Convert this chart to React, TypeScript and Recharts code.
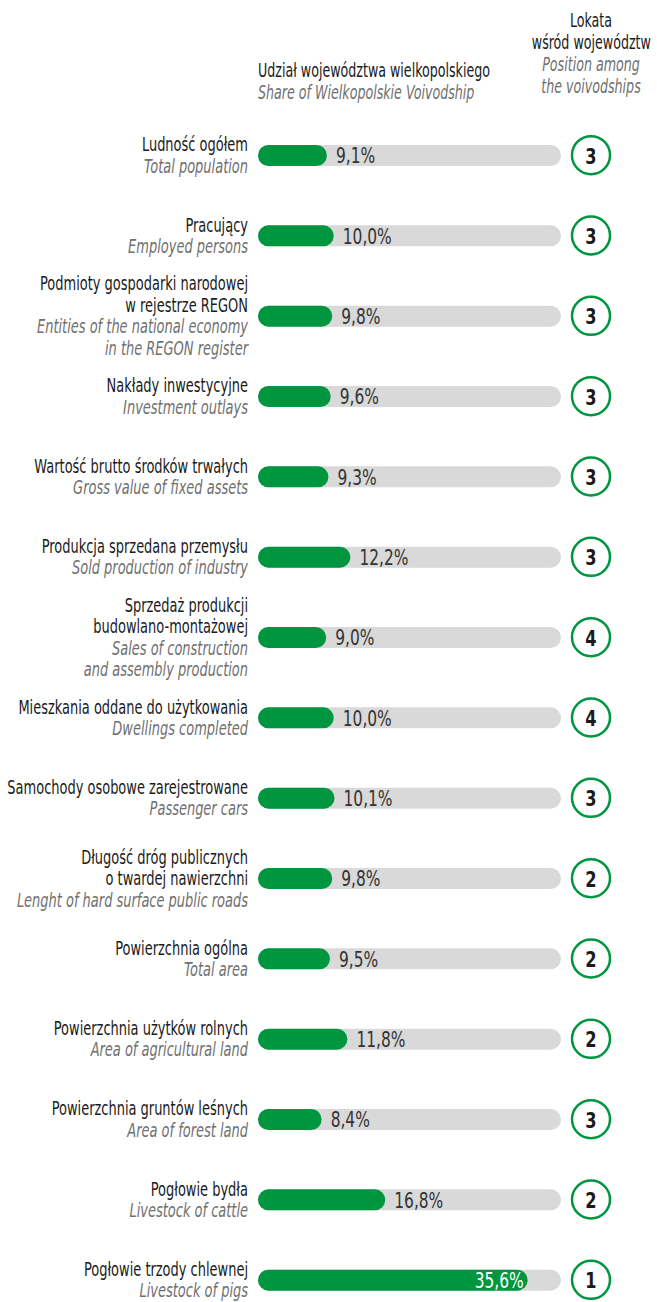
import { BarChart, Bar, XAxis, YAxis, LabelList } from "recharts";

const categoriesPl = [
  "Ludność ogółem",
  "Pracujący",
  "Podmioty gospodarki narodowej\nw rejestrze REGON",
  "Nakłady inwestycyjne",
  "Wartość brutto środków trwałych",
  "Produkcja sprzedana przemysłu",
  "Sprzedaż produkcji\nbudowlano-montażowej",
  "Mieszkania oddane do użytkowania",
  "Samochody osobowe zarejestrowane",
  "Długość dróg publicznych\no twardej nawierzchni",
  "Powierzchnia ogólna",
  "Powierzchnia użytków rolnych",
  "Powierzchnia gruntów leśnych",
  "Pogłowie bydła",
  "Pogłowie trzody chlewnej",
];

const categoriesEn = [
  "Total population",
  "Employed persons",
  "Entities of the national economy\nin the REGON register",
  "Investment outlays",
  "Gross value of fixed assets",
  "Sold production of industry",
  "Sales of construction\nand assembly production",
  "Dwellings completed",
  "Passenger cars",
  "Lenght of hard surface public roads",
  "Total area",
  "Area of agricultural land",
  "Area of forest land",
  "Livestock of cattle",
  "Livestock of pigs",
];

const shares = [9.1, 10.0, 9.8, 9.6, 9.3, 12.2, 9.0, 10.0, 10.1, 9.8, 9.5, 11.8, 8.4, 16.8, 35.6];
const ranks = [3, 3, 3, 3, 3, 3, 4, 4, 3, 2, 2, 2, 3, 2, 1];

const data = categoriesPl.map((pl, i) => ({
  pl,
  en: categoriesEn[i],
  share: shares[i],
  rank: ranks[i],
}));

const GREEN = "#00963f";
const FONT = '"DejaVu Sans Condensed", "DejaVu Sans", sans-serif';
const LINE = 21.5;
const SQUEEZE = 0.76;

// condensed svg text: DejaVu Condensed is still wider than the original face
function Narrow({ x, y, scale = SQUEEZE, children, ...rest }: any) {
  return (
    <text transform={`translate(${x},${y}) scale(${scale},1)`} dy="0.36em" fontFamily={FONT} {...rest}>
      {children}
    </text>
  );
}

function LeftTick(props: any) {
  const { x, y, payload } = props;
  const i = payload.index;
  const pl = categoriesPl[i].split("\n");
  const en = categoriesEn[i].split("\n");
  const lines = [...pl.map((t) => ({ t, en: false })), ...en.map((t) => ({ t, en: true }))];
  const start = y - ((lines.length - 1) * LINE) / 2;
  return (
    <g>
      {lines.map((l, k) => (
        <Narrow
          key={k}
          x={x}
          y={start + k * LINE}
          textAnchor="end"
          fontSize={19}
          fontStyle={l.en ? "italic" : "normal"}
          fill={l.en ? "#707070" : "#1a1a1a"}
        >
          {l.t}
        </Narrow>
      ))}
    </g>
  );
}

function RankTick(props: any) {
  const { x, y, payload } = props;
  const rank = ranks[payload.index];
  return (
    <g>
      <circle cx={x + 30} cy={y} r={19} fill="#fff" stroke={GREEN} strokeWidth={2.5} />
      <Narrow x={x + 30} y={y + 0.5} scale={0.82} textAnchor="middle" fontWeight="bold" fontSize={22} fill="#1a1a1a">
        {rank}
      </Narrow>
    </g>
  );
}

function ValueLabel(props: any) {
  const { x, y, width, height, value } = props;
  const txt = value.toFixed(1).replace(".", ",") + "%";
  const inside = value > 30;
  return (
    <Narrow
      x={inside ? x + width - 4 : x + width + 9}
      y={y + height / 2}
      scale={0.78}
      textAnchor={inside ? "end" : "start"}
      fontSize={22}
      fill={inside ? "#fff" : "#333"}
    >
      {txt}
    </Narrow>
  );
}

const squeezeLeft = { transform: `scaleX(0.74)`, transformOrigin: "left top" };
const squeezeMid = { transform: `scaleX(0.74)`, transformOrigin: "center top" };

export default function App() {
  return (
    <div style={{ position: "absolute", left: 0, top: 0, width: 657, height: 1302, overflow: "hidden", background: "#fff", fontFamily: FONT }}>
      <div style={{ position: "absolute", left: 258, top: 59, fontSize: 19, lineHeight: "22px", whiteSpace: "nowrap", ...squeezeLeft }}>
        <div style={{ color: "#1a1a1a" }}>Udział województwa wielkopolskiego</div>
        <div style={{ color: "#707070", fontStyle: "italic" }}>Share of Wielkopolskie Voivodship</div>
      </div>
      <div style={{ position: "absolute", left: 511, width: 160, top: 9, fontSize: 19, lineHeight: "22px", textAlign: "center", whiteSpace: "nowrap", ...squeezeMid }}>
        <div style={{ color: "#1a1a1a" }}>Lokata</div>
        <div style={{ color: "#1a1a1a" }}>wśród województw</div>
        <div style={{ color: "#707070", fontStyle: "italic" }}>Position among</div>
        <div style={{ color: "#707070", fontStyle: "italic" }}>the voivodships</div>
      </div>
      <BarChart
        width={657}
        height={1320}
        data={data}
        layout="vertical"
        margin={{ top: 115, right: 0, bottom: 0, left: 0 }}
        barSize={21}
      >
        <XAxis type="number" domain={[0, 40]} hide />
        <YAxis
          type="category"
          dataKey="pl"
          width={258}
          axisLine={false}
          tickLine={false}
          tickSize={0}
          tickMargin={10}
          interval={0}
          tick={<LeftTick />}
        />
        <YAxis
          yAxisId="rank"
          orientation="right"
          type="category"
          dataKey="pl"
          width={96}
          axisLine={false}
          tickLine={false}
          tickSize={0}
          tickMargin={0}
          interval={0}
          tick={<RankTick />}
        />
        <Bar
          dataKey="share"
          fill={GREEN}
          radius={10.5}
          background={{ fill: "#d9d9d9", radius: 10.5 }}
          isAnimationActive={false}
        >
          <LabelList dataKey="share" content={<ValueLabel />} />
        </Bar>
      </BarChart>
    </div>
  );
}
